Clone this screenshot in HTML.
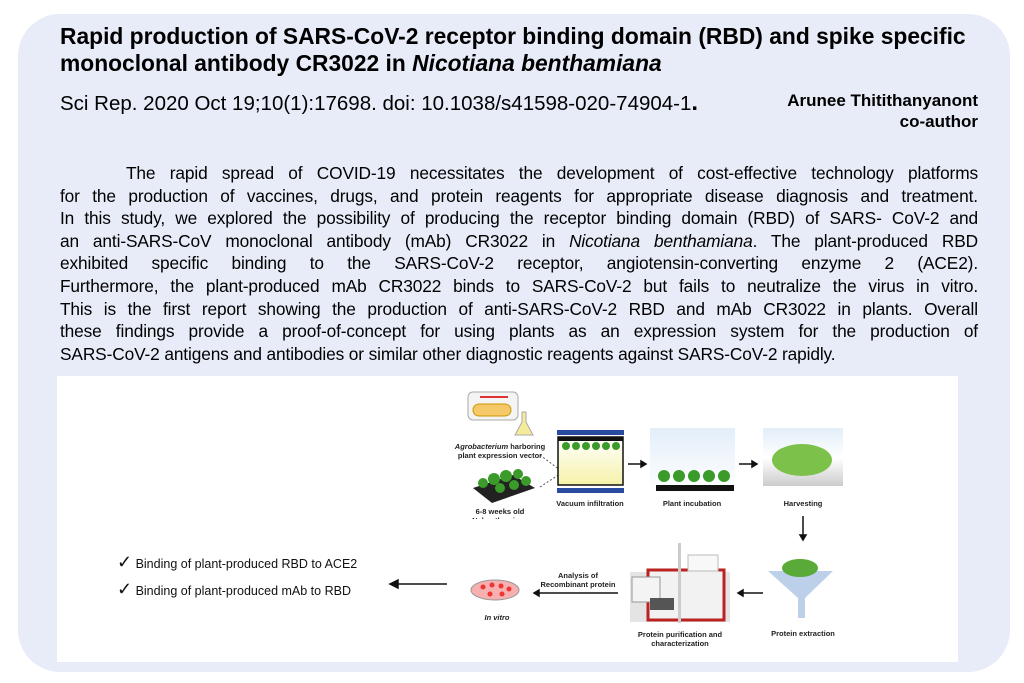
<!DOCTYPE html>
<html><head><meta charset="utf-8"><style>
body{margin:0;width:1024px;height:683px;background:#fff;position:relative;overflow:hidden;font-family:"Liberation Sans",Arial,sans-serif}
.panel{position:absolute;left:18px;top:14px;width:992px;height:658px;background:#e8ecf8;border-radius:42px}
.abs{position:absolute}
.title{left:60px;top:23px;width:940px;font-size:22.8px;font-weight:bold;line-height:27px;color:#000}
.cite{left:60px;top:89px;font-size:20.5px;color:#000}
.auth{right:46px;top:90px;font-size:17px;font-weight:bold;text-align:right;line-height:21px}
.body{left:60px;top:162px;width:918px;font-size:17.3px;line-height:22.6px;color:#000;letter-spacing:-0.12px}
.body div{text-align:justify;text-align-last:justify;white-space:nowrap}
.fig{left:57px;top:376px;width:901px;height:286px;background:#fff}
.lbl{position:absolute;font-size:7.5px;font-weight:bold;color:#222;text-align:center}
</style></head><body>
<div class="panel"></div>
<div class="abs title">Rapid production of SARS-CoV-2 receptor binding domain (RBD) and spike specific monoclonal antibody CR3022 in <i>Nicotiana benthamiana</i></div>
<div class="abs cite">Sci Rep. 2020 Oct 19;10(1):17698. doi: 10.1038/s41598-020-74904-1<b style="font-size:24px">.</b></div>
<div class="abs auth">Arunee Thitithanyanont<br>co-author</div>
<div class="abs body">
<div style="padding-left:66px">The rapid spread of COVID-19 necessitates the development of cost-effective technology platforms</div>
<div>for the production of vaccines, drugs, and protein reagents for appropriate disease diagnosis and treatment.</div>
<div>In this study, we explored the possibility of producing the receptor binding domain (RBD) of SARS- CoV-2 and</div>
<div>an anti-SARS-CoV monoclonal antibody (mAb) CR3022 in <i>Nicotiana benthamiana</i>. The plant-produced RBD</div>
<div>exhibited specific binding to the SARS-CoV-2 receptor, angiotensin-converting enzyme 2 (ACE2).</div>
<div>Furthermore, the plant-produced mAb CR3022 binds to SARS-CoV-2 but fails to neutralize the virus in vitro.</div>
<div>This is the first report showing the production of anti-SARS-CoV-2 RBD and mAb CR3022 in plants. Overall</div>
<div>these findings provide a proof-of-concept for using plants as an expression system for the production of</div>
<div style="text-align-last:left">SARS-CoV-2 antigens and antibodies or similar other diagnostic reagents against SARS-CoV-2 rapidly.</div>
</div>
<div class="abs fig"></div>
<svg width="1024" height="683" style="position:absolute;left:0;top:0">
<defs><linearGradient id="y" x1="0" y1="0" x2="0" y2="1"><stop offset="0" stop-color="#fff"/><stop offset="1" stop-color="#f6f2a8"/></linearGradient>
<linearGradient id="s" x1="0" y1="0" x2="0" y2="1"><stop offset="0" stop-color="#e3eef9"/><stop offset="1" stop-color="#fff"/></linearGradient>
<linearGradient id="g" x1="0" y1="0" x2="0" y2="1"><stop offset="0" stop-color="#fff"/><stop offset="1" stop-color="#ccc"/></linearGradient></defs>
<rect x="468" y="392" width="50" height="28" rx="5" fill="#f4f4f4" stroke="#aaa"/>
<rect x="480" y="396" width="28" height="2" fill="#d33"/>
<rect x="473" y="404" width="38" height="12" rx="6" fill="#f5c86a" stroke="#c90"/>
<path d="M522 412 v10 l-7 13 h18 l-7-13 v-10z" fill="#f4ec9a" stroke="#aaa"/>
<polygon points="473,488 513,475 535,488 492,503" fill="#222"/>
<g fill="#3a9a2a"><circle cx="483" cy="483" r="5"/><circle cx="494" cy="479" r="6"/><circle cx="506" cy="476" r="6"/><circle cx="518" cy="474" r="5"/><circle cx="500" cy="488" r="5"/><circle cx="514" cy="485" r="5"/><circle cx="526" cy="481" r="5"/></g>
<line x1="540" y1="455" x2="560" y2="470" stroke="#555" stroke-dasharray="2,2"/>
<line x1="540" y1="487" x2="560" y2="474" stroke="#555" stroke-dasharray="2,2"/>
<rect x="557" y="430" width="67" height="5" fill="#2a4aa0"/>
<rect x="557" y="488" width="67" height="5" fill="#2a4aa0"/>
<rect x="558" y="437" width="65" height="48" fill="url(#y)" stroke="#111" stroke-width="1.5"/>
<rect x="558" y="437" width="65" height="4" fill="#111"/>
<g fill="#3a9a2a"><circle cx="566" cy="446" r="4"/><circle cx="576" cy="446" r="4"/><circle cx="586" cy="446" r="4"/><circle cx="596" cy="446" r="4"/><circle cx="606" cy="446" r="4"/><circle cx="616" cy="446" r="4"/></g>
<rect x="650" y="428" width="85" height="64" fill="url(#s)"/>
<rect x="656" y="485" width="78" height="6" fill="#111"/>
<g fill="#3a9a2a"><circle cx="664" cy="476" r="6"/><circle cx="679" cy="476" r="6"/><circle cx="694" cy="476" r="6"/><circle cx="709" cy="476" r="6"/><circle cx="724" cy="476" r="6"/></g>
<rect x="763" y="428" width="80" height="30" fill="url(#s)"/>
<rect x="763" y="458" width="80" height="28" fill="url(#g)"/>
<ellipse cx="802" cy="460" rx="30" ry="16" fill="#7cc24a"/>
<g stroke="#111" stroke-width="1.5" fill="#111">
<line x1="628" y1="464" x2="641" y2="464"/><polygon points="641,461 646,464 641,467"/>
<line x1="739" y1="464" x2="752" y2="464"/><polygon points="752,461 757,464 752,467"/>
<line x1="803" y1="516" x2="803" y2="535"/><polygon points="800,535 803,540 806,535"/>
<line x1="763" y1="593" x2="743" y2="593"/><polygon points="743,590 738,593 743,596"/>
<line x1="618" y1="593" x2="539" y2="593"/><polygon points="539,590 534,593 539,596"/>
<line x1="447" y1="584" x2="398" y2="584"/><polygon points="398,580 390,584 398,588"/>
</g>
<polygon points="768,571 833,571 805,598 805,618 798,618 798,598" fill="#bcd0ea"/>
<ellipse cx="800" cy="568" rx="18" ry="9" fill="#5aaa3a"/>
<rect x="630" y="572" width="100" height="50" fill="#e4e4e4"/>
<rect x="648" y="570" width="76" height="50" fill="#f2f2f2" stroke="#b22" stroke-width="3"/>
<rect x="632" y="577" width="28" height="25" fill="#f4f4f4" stroke="#999"/>
<rect x="650" y="598" width="24" height="12" fill="#555"/>
<rect x="678" y="543" width="3" height="80" fill="#ccc"/>
<rect x="688" y="555" width="30" height="16" fill="#f8f8f8" stroke="#bbb"/>
<ellipse cx="495" cy="590" rx="24" ry="10" fill="#f6b0b0" stroke="#999"/>
<g fill="#e33"><circle cx="483" cy="587" r="2.5"/><circle cx="492" cy="585" r="2.5"/><circle cx="501" cy="586" r="2.5"/><circle cx="509" cy="589" r="2.5"/><circle cx="490" cy="594" r="2.5"/><circle cx="502" cy="594" r="2.5"/></g>
</svg>
<div class="lbl" style="left:440px;top:442px;width:120px;line-height:9px"><i>Agrobacterium</i> harboring<br>plant expression vector</div>
<div class="lbl" style="left:465px;top:507px;width:70px;line-height:9px;height:12px;overflow:hidden">6-8 weeks old<br>N. benthamiana</div>
<div class="lbl" style="left:550px;top:499px;width:80px">Vacuum infiltration</div>
<div class="lbl" style="left:652px;top:499px;width:80px">Plant incubation</div>
<div class="lbl" style="left:763px;top:499px;width:80px">Harvesting</div>
<div class="lbl" style="left:763px;top:629px;width:80px">Protein extraction</div>
<div class="lbl" style="left:625px;top:630px;width:110px;line-height:9px">Protein purification and<br>characterization</div>
<div class="lbl" style="left:538px;top:571px;width:80px;line-height:9px">Analysis of<br>Recombinant protein</div>
<div class="lbl" style="left:472px;top:613px;width:50px"><i>In vitro</i></div>
<div style="position:absolute;left:117px;top:550px;font-size:12.5px;color:#111;line-height:25px"><span style="font-size:18px">✓</span> Binding of plant-produced RBD to ACE2<br><span style="font-size:18px">✓</span> Binding of plant-produced mAb to RBD</div>
</body></html>
